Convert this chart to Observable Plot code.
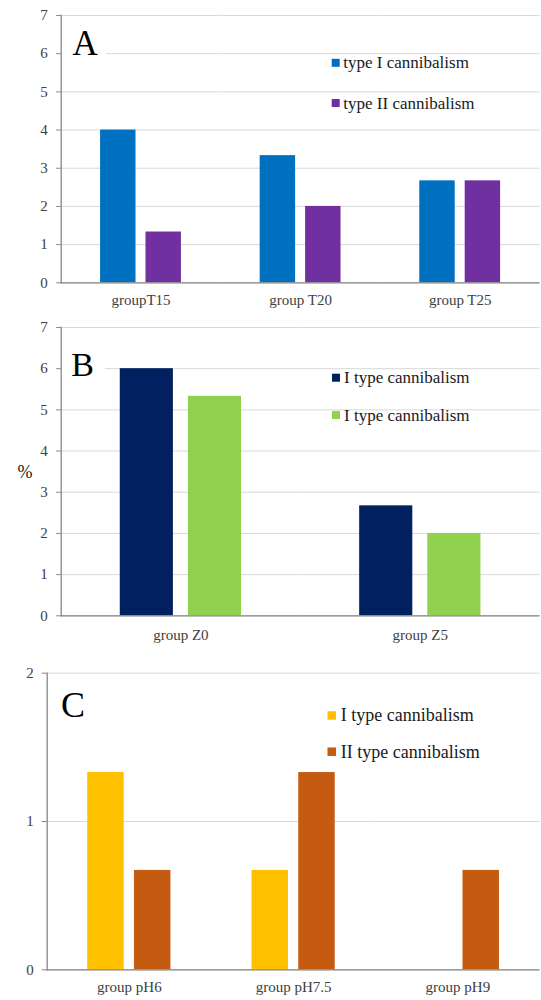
<!DOCTYPE html>
<html><head><meta charset="utf-8">
<script src="https://cdn.jsdelivr.net/npm/d3@7"></script>
<script src="https://cdn.jsdelivr.net/npm/@observablehq/plot@0.6"></script>
<style>body{margin:0;background:#fff} #root svg{display:block}</style>
</head><body><div id="root"></div>
<script>
// ---- data ----
const groupsA = ["groupT15", "group T20", "group T25"];
const seriesA = ["type I cannibalism", "type II cannibalism"];
const typeIA = [4, 3.33, 2.67];
const typeIIA = [1.33, 2, 2.67];

const groupsB = ["group Z0", "group Z5"];
const seriesB = ["I type cannibalism", "I type cannibalism"];
const typeIB = [6, 2.67];
const typeIIB = [5.33, 2];

const groupsC = ["group pH6", "group pH7.5", "group pH9"];
const seriesC = ["I type cannibalism", "II type cannibalism"];
const typeIC = [1.33, 0.67, 0];
const typeIIC = [0.67, 1.33, 0.67];

const yTicksAB = [0, 1, 2, 3, 4, 5, 6, 7];
const yTicksC = [0, 1, 2];
const yLabelB = "%";
const panelLetters = ["A", "B", "C"];

// ---- styles ----
const FONT = "'Liberation Serif', 'Times New Roman', serif";
const AXIS = "#868686";
const colorsA = ["#0070C0", "#7030A0"];
const colorsB = ["#002060", "#92D050"];
const colorsC = ["#FFC000", "#C55A11"];

function makePanel(cfg) {
  const keys = cfg.series.map((_, i) => "s" + i);
  const rows = [];
  cfg.groups.forEach((g, gi) => cfg.values.forEach((vals, si) =>
    rows.push({group: g, key: keys[si], value: vals[gi]})));
  const svg = Plot.plot({
    width: 541, height: cfg.height,
    marginTop: cfg.mt, marginBottom: cfg.mb, marginLeft: cfg.ml, marginRight: 1.5,
    style: {fontFamily: FONT, fontSize: "15px", color: "#404040", background: "white", overflow: "visible"},
    fx: {domain: cfg.groups, padding: 0, round: false, label: null},
    x: {domain: keys, paddingInner: 0.22, paddingOuter: 0.867, round: false, axis: null},
    y: {domain: [0, d3.max(cfg.ticks)], label: null},
    color: {domain: keys, range: cfg.colors},
    marks: [
      Plot.gridY(cfg.ticks, {stroke: "#d9d9d9", strokeOpacity: 1, strokeWidth: 1}),
      Plot.barY(rows, {fx: "group", x: "key", y: "value", fill: "key"}),
      Plot.ruleY([0], {stroke: AXIS, strokeWidth: 1.3}),
      Plot.frame({anchor: "left", facetAnchor: "left", stroke: AXIS, strokeWidth: 1.3}),
      Plot.axisY(cfg.ticks, {tickSize: cfg.tickSize, tickPadding: cfg.tickPad, tickFormat: d3.format("d"), stroke: AXIS, fill: "#404040", fontSize: 15, label: null}),
      Plot.axisFx({anchor: "bottom", tickSize: 0, tickPadding: cfg.fxPad, fontSize: 15, fill: "#404040", label: null})
    ]
  });
  const s = d3.select(svg);
  const g = s.append("g").attr("font-family", FONT).attr("text-anchor", "start");
  // panel letter with white box
  g.append("rect").attr("x", cfg.letterBox[0]).attr("y", cfg.letterBox[1])
    .attr("width", cfg.letterBox[2]).attr("height", cfg.letterBox[3]).attr("fill", "white");
  g.append("text").attr("x", cfg.letterX).attr("y", cfg.letterY).attr("text-anchor", "start")
    .attr("font-size", cfg.letterSize).attr("fill", "#000").text(cfg.letter);
  // legend
  cfg.series.forEach((name, i) => {
    const cy = cfg.legendY[i];
    g.append("rect").attr("x", cfg.legendSqX).attr("y", cy - cfg.sq / 2)
      .attr("width", cfg.sq).attr("height", cfg.sq).attr("fill", cfg.colors[i]);
    g.append("text").attr("x", cfg.legendTextX).attr("y", cy + 0.33 * cfg.legendSize)
      .attr("text-anchor", "start")
      .attr("font-size", cfg.legendSize).attr("fill", "#1a1a1a").text(name);
  });
  if (cfg.yLabel) {
    g.append("text").attr("x", cfg.yLabelPos[0]).attr("y", cfg.yLabelPos[1])
      .attr("text-anchor", "middle").attr("font-size", 18).attr("fill", "#1a1a1a").text(cfg.yLabel);
  }
  return svg;
}

const root = document.getElementById("root");
root.appendChild(makePanel({
  groups: groupsA, series: seriesA, values: [typeIA, typeIIA], colors: colorsA, ticks: yTicksAB,
  height: 312, mt: 15, mb: 29.7, ml: 60.7, tickSize: 4.5, tickPad: 9, fxPad: 12,
  letter: panelLetters[0], letterX: 72.5, letterY: 55, letterSize: 35, letterBox: [62, 28, 44, 32],
  legendSqX: 331.7, legendTextX: 343.3, legendY: [62.8, 103], legendSize: 17, sq: 8
}));
root.appendChild(makePanel({
  groups: groupsB, series: seriesB, values: [typeIB, typeIIB], colors: colorsB, ticks: yTicksAB,
  height: 338, mt: 15, mb: 34.7, ml: 60.7, tickSize: 4.5, tickPad: 9, fxPad: 13.5,
  letter: panelLetters[1], letterX: 71.2, letterY: 63.7, letterSize: 34, letterBox: [62, 36, 43, 32],
  legendSqX: 332, legendTextX: 344, legendY: [65.7, 103], legendSize: 17, sq: 8,
  yLabel: yLabelB, yLabelPos: [25, 166]
}));
root.appendChild(makePanel({
  groups: groupsC, series: seriesC, values: [typeIC, typeIIC], colors: colorsC, ticks: yTicksC,
  height: 350, mt: 22.7, mb: 30.7, ml: 46.7, tickSize: 5, tickPad: 8.4, fxPad: 11.5,
  letter: panelLetters[2], letterX: 61, letterY: 67, letterSize: 36, letterBox: [48, 36, 45, 36],
  legendSqX: 327.5, legendTextX: 340.7, legendY: [65.5, 101.7], legendSize: 18, sq: 8.5
}));
</script>
</body></html>
